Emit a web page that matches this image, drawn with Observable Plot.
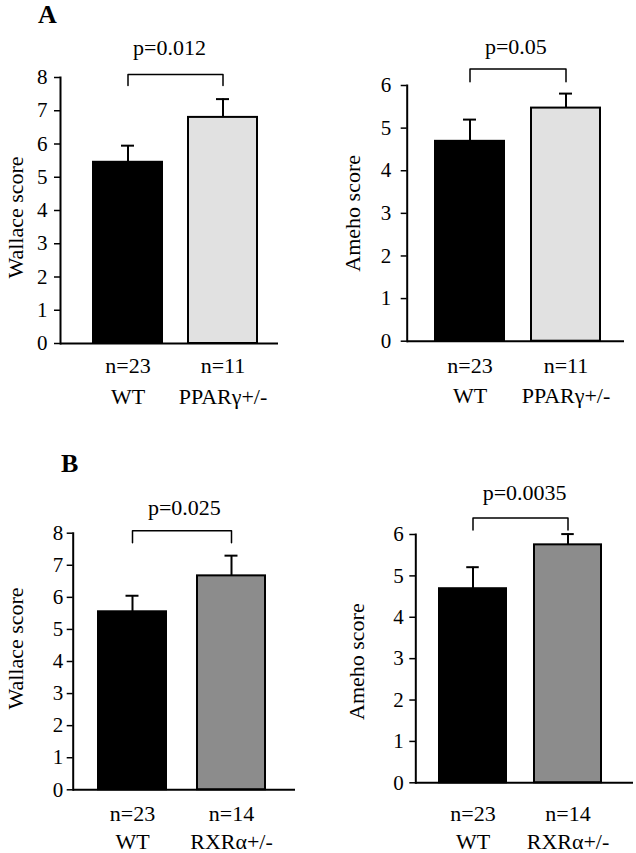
<!DOCTYPE html>
<html><head><meta charset="utf-8">
<script src="https://cdn.jsdelivr.net/npm/d3@7"></script>
<script src="https://cdn.jsdelivr.net/npm/@observablehq/plot@0.6"></script>
<style>
body{margin:0;background:#fff}
#root{position:relative;width:636px;height:853px;font-family:"Liberation Serif","Times New Roman",serif;color:#000}
.pl{position:absolute}
.lab{position:absolute;font-weight:bold;font-size:26px;line-height:1}
</style>
</head><body><div id="root"></div>
<script>
// ---- data ----
const groupsA = ["WT", "PPARγ+/-"];
const groupsB = ["WT", "RXRα+/-"];
const countsA = ["n=23", "n=11"];
const countsB = ["n=23", "n=14"];
const wallaceA = [5.45, 6.8];
const wallaceAErr = [0.5, 0.55];
const amehoA = [4.69, 5.47];
const amehoAErr = [0.51, 0.34];
const wallaceB = [5.55, 6.67];
const wallaceBErr = [0.5, 0.63];
const amehoB = [4.69, 5.75];
const amehoBErr = [0.52, 0.26];
const pValues = ["p=0.012", "p=0.05", "p=0.025", "p=0.0035"];
const wallaceTicks = [0, 1, 2, 3, 4, 5, 6, 7, 8];
const amehoTicks = [0, 1, 2, 3, 4, 5, 6];
const yLabels = ["Wallace score", "Ameho score"];
// bracket heights (top, leg end) in score units
const bracketTop = [8.09, 6.39, 8.08, 6.4];
const bracketLeg = [7.76, 6.09, 7.7, 6.11];
const panelLetters = ["A", "B"];

// ---- layout / style (not data) ----
const WT_FILL = "#000000";
const PPAR_FILL = "#e1e1e1";
const RXR_FILL = "#8c8c8c";

const panels = [
  {left:0, top:0, width:318, height:420, mL:60, mR:40, mT:77, mB:77,
   groups:groupsA, n:countsA, values:wallaceA, errors:wallaceAErr, fills:[WT_FILL, PPAR_FILL],
   yMax:8, ticks:wallaceTicks, ylabel:yLabels[0], p:pValues[0], bTop:bracketTop[0], bLeg:bracketLeg[0],
   pi:0.274, po:0.284, align:0.61, pDy:-26.5, nDy:22, gDy:53, lDx:-45, lDy:7, tp:7},
  {left:318, top:0, width:318, height:420, mL:88.7, mR:12, mT:85, mB:79.3,
   groups:groupsA, n:countsA, values:amehoA, errors:amehoAErr, fills:[WT_FILL, PPAR_FILL],
   yMax:6, ticks:amehoTicks, ylabel:yLabels[1], p:pValues[1], bTop:bracketTop[1], bLeg:bracketLeg[1],
   pi:0.281, po:0.272, align:0.54, pDy:-21.6, nDy:24.5, gDy:55, lDx:-54, lDy:0, tp:10},
  {left:0, top:420, width:318, height:433, mL:72.7, mR:23, mT:112.7, mB:63.7,
   groups:groupsB, n:countsB, values:wallaceB, errors:wallaceBErr, fills:[WT_FILL, RXR_FILL],
   yMax:8, ticks:wallaceTicks, ylabel:yLabels[0], p:pValues[2], bTop:bracketTop[2], bLeg:bracketLeg[2],
   pi:0.313, po:0.279, align:0.46, pDy:-22.5, nDy:24, gDy:52, lDx:-57.7, lDy:-13, tp:4},
  {left:318, top:420, width:318, height:433, mL:97.3, mR:3, mT:114, mB:70.7,
   groups:groupsB, n:countsB, values:amehoB, errors:amehoBErr, fills:[WT_FILL, RXR_FILL],
   yMax:6, ticks:amehoTicks, ylabel:yLabels[1], p:pValues[3], bTop:bracketTop[3], bLeg:bracketLeg[3],
   pi:0.292, po:0.288, align:0.43, pDy:-24.8, nDy:31, gDy:59, lDx:-59, lDy:3, tp:6}
];

const root = document.getElementById("root");

function makePanel(c) {
  const data = c.groups.map((g, i) => ({group: g, n: c.n[i], value: c.values[i], top: c.values[i] + c.errors[i], fill: c.fills[i]}));
  const bracket = [
    {group: c.groups[0], y: c.bLeg},
    {group: c.groups[0], y: c.bTop},
    {group: c.groups[1], y: c.bTop},
    {group: c.groups[1], y: c.bLeg}
  ];
  const innerW = c.width - c.mL - c.mR;
  const step = innerW / (2 - c.pi + 2 * c.po);
  const bw = step * (1 - c.pi);
  const capInset = Math.max(0, (bw - 13) / 2);
  const svg = Plot.plot({
    width: c.width, height: c.height,
    marginLeft: c.mL, marginRight: c.mR, marginTop: c.mT, marginBottom: c.mB,
    style: {fontFamily: '"Liberation Serif", "Times New Roman", serif', fontSize: "22px", color: "#000", background: "transparent", overflow: "visible"},
    x: {type: "band", domain: c.groups, paddingInner: c.pi, paddingOuter: c.po, align: c.align, axis: null},
    y: {domain: [0, c.yMax], axis: null},
    color: {type: "identity"},
    marks: [
      Plot.ruleX(data, {x: "group", y1: "value", y2: "top", stroke: "#000", strokeWidth: 2}),
      Plot.tickY(data, {x: "group", y: "top", stroke: "#000", strokeWidth: 2, insetLeft: capInset, insetRight: capInset}),
      Plot.barY(data, {x: "group", y: "value", fill: "fill", stroke: "#000", strokeWidth: 2}),
      Plot.axisY({ticks: c.ticks, tickFormat: d => String(d), tickSize: 6, tickPadding: c.tp, strokeWidth: 1.5, label: null, fontSize: 21, fill: "#000"}),
      Plot.frame({anchor: "left", stroke: "#000", strokeWidth: 2}),
      Plot.ruleY([0], {stroke: "#000", strokeWidth: 2}),
      Plot.line(bracket, {x: "group", y: "y", stroke: "#000", strokeWidth: 1.5}),
      Plot.text([c.p], {y: () => c.bTop, text: d => d, dy: c.pDy, textAnchor: "middle", lineAnchor: "middle", fontSize: 22, fill: "#000"}),
      Plot.text(data, {x: "group", y: () => 0, text: "n", dy: c.nDy, textAnchor: "middle", lineAnchor: "middle", fontSize: 22, fill: "#000"}),
      Plot.text(data, {x: "group", y: () => 0, text: "group", dy: c.gDy, textAnchor: "middle", lineAnchor: "middle", fontSize: 22, fill: "#000"}),
      Plot.text([c.ylabel], {frameAnchor: "left", rotate: -90, dx: c.lDx, dy: c.lDy, text: d => d, textAnchor: "middle", lineAnchor: "middle", fontSize: 22, fill: "#000"})
    ]
  });
  svg.classList.add("pl");
  svg.style.left = c.left + "px";
  svg.style.top = c.top + "px";
  root.appendChild(svg);
}
panels.forEach(makePanel);

const labA = document.createElement("div");
labA.className = "lab"; labA.textContent = panelLetters[0];
labA.style.left = "38px"; labA.style.top = "2px";
root.appendChild(labA);
const labB = document.createElement("div");
labB.className = "lab"; labB.textContent = panelLetters[1];
labB.style.left = "61px"; labB.style.top = "451px";
root.appendChild(labB);
</script>
</body></html>
